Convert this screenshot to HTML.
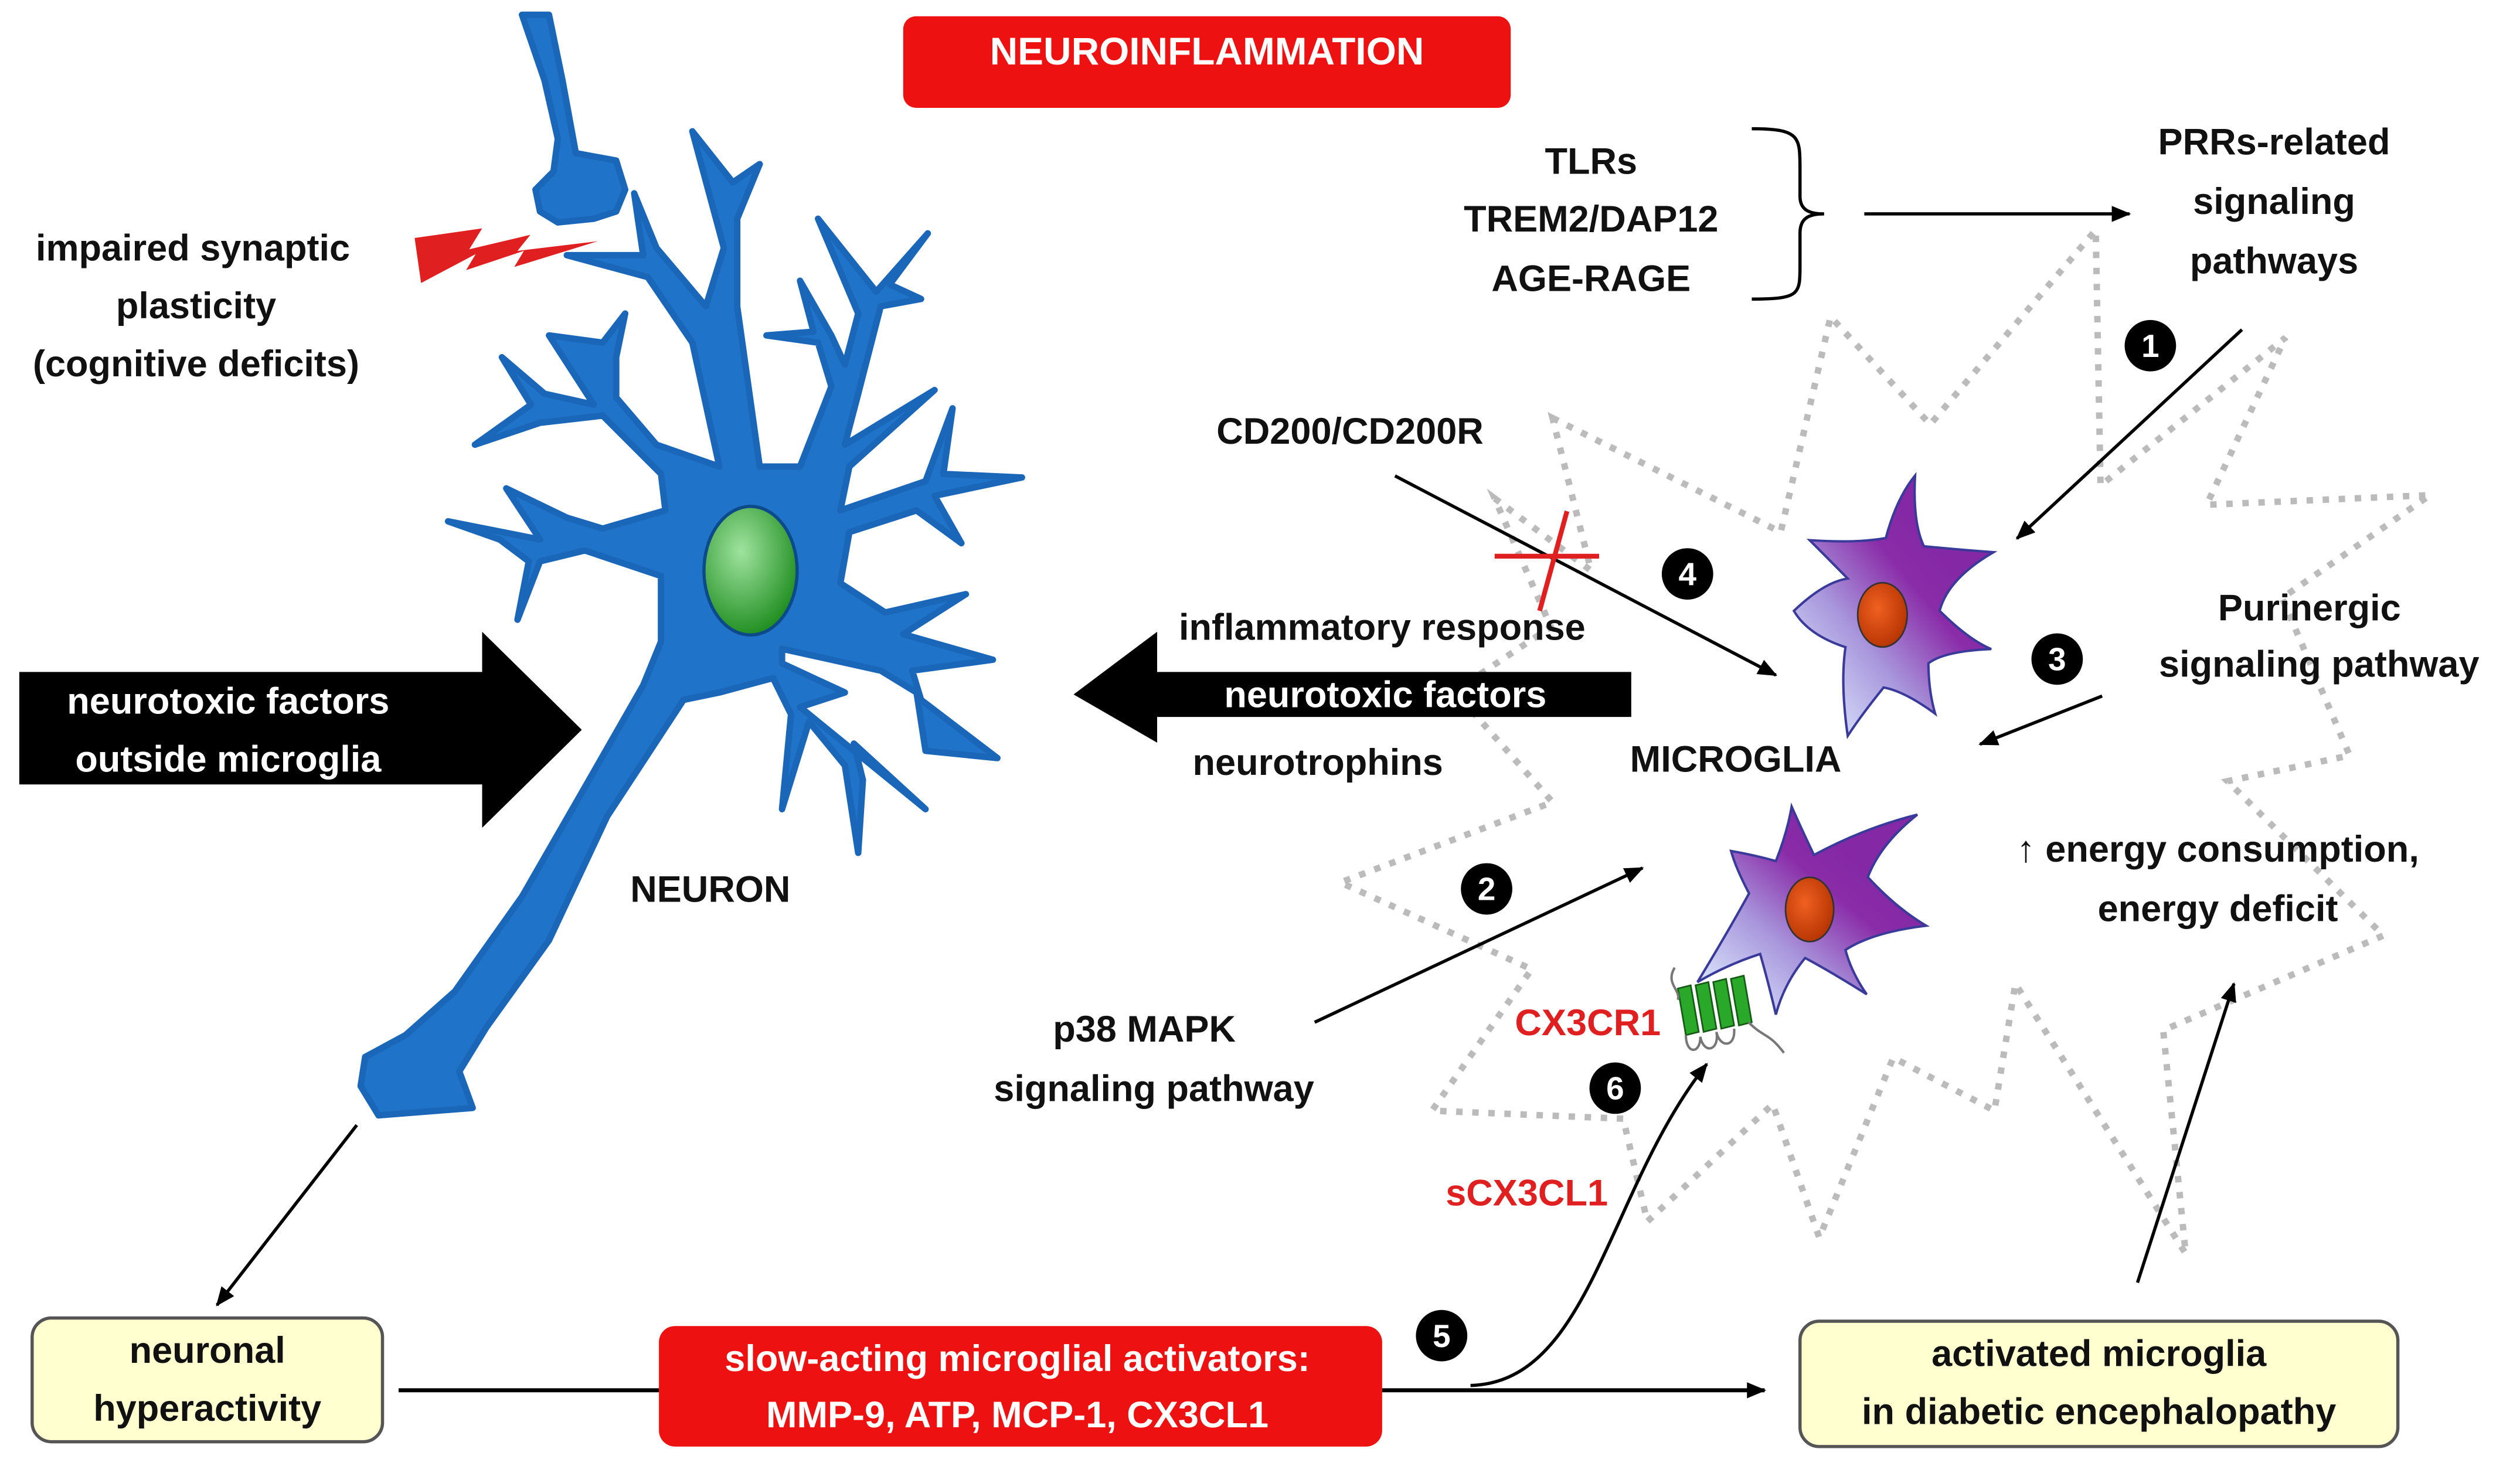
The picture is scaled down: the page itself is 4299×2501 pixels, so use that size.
<!DOCTYPE html>
<html><head><meta charset="utf-8"><style>
html,body{margin:0;padding:0;background:#fff}
svg{display:block}
text{font-family:"Liberation Sans",sans-serif;font-weight:bold;font-size:23px;fill:#111}
</style></head><body>
<svg width="4299" height="2501" viewBox="0 0 1568 912" xmlns="http://www.w3.org/2000/svg">
<defs>
<marker id="ah" markerWidth="12" markerHeight="10" refX="11" refY="5" orient="auto" markerUnits="userSpaceOnUse"><path d="M0,0 L12,5 L0,10 z" fill="#000"/></marker>
<radialGradient id="gn" cx="0.4" cy="0.35" r="0.7"><stop offset="0" stop-color="#9fe39f"/><stop offset="1" stop-color="#1a8a1a"/></radialGradient>
<linearGradient id="mg" x1="0.1" y1="1" x2="0.75" y2="0.3"><stop offset="0" stop-color="#dfeeff"/><stop offset="0.45" stop-color="#a896dc"/><stop offset="0.8" stop-color="#8a2ca8"/><stop offset="1" stop-color="#8528a5"/></linearGradient>
<radialGradient id="nuc" cx="0.4" cy="0.4" r="0.7"><stop offset="0" stop-color="#f06020"/><stop offset="1" stop-color="#b03000"/></radialGradient>
</defs>

<rect x="562" y="10" width="378" height="57" rx="8" fill="#ee1111"/>
<text x="751" y="40" text-anchor="middle" style="fill:#fff;font-size:24px">NEUROINFLAMMATION</text>

<polygon points="966,260 1108,331 1139,197 1201,264 1304,143 1307,302 1422,210 1373,314 1512,308 1420,372 1462,470 1386,486 1483,582 1346,641 1360,780 1254,612 1241,691 1178,658 1132,770 1103,687 1025,760 1010,696 891,691 953,603 834,549 966,499 905,430 965,390 930,310 990,355"
 fill="none" stroke="#bbb" stroke-width="4" stroke-dasharray="4,6"/>

<g fill="#1f74c9" stroke="#1a66b8" stroke-width="4" stroke-linejoin="round">
<path d="M324.8,9.1 L341.6,9.1 L350,49.9 L358.3,95.2 L383.4,99.8 L389,117.9 L383.4,131.5 L369.5,136 L347.1,138.3 L336,131.5 L333.2,117.9 L344.4,106.6 L347.1,86.2 L338.8,49.9 Z"/>
<path d="M235.5,693.9 L224.4,675.7 L227.2,657.6 L252.3,644 L283,616.8 L324.8,557.8 L363.9,489.8 L400.2,426.3 L411.3,399.1 L411.3,358.3 L363.9,342.4 L336,349.2 L322,385.5 L329,349.2 L310.9,335.6 L278.8,324.3 L336,335.6 L315,303.8 L352.7,322 L375,328.8 L414,317.5 L411.3,294.8 L375,258.5 L336,263 L295.5,276.6 L330.4,251.7 L312.3,222.2 L338.8,244.9 L369.5,251.7 L341.6,208.6 L375,213.1 L389,195 L383.4,222.2 L383.4,247.2 L408.5,276.6 L447.6,290.2 L430.8,213.1 L403,172.3 L352.7,158.7 L400.2,158.7 L394.6,120.2 L408.5,154.2 L439.2,190.5 L450.4,154.2 L430.8,81.6 L456,113.4 L472.7,102 L458.7,136 L458.7,190.5 L472.7,290.2 L497.8,290.2 L517.3,240.4 L509,213.1 L476.9,208.6 L506.2,206.3 L497.8,174.6 L517.3,208.6 L525.7,226.8 L534,195 L509,136 L545.2,181.4 L577.3,145.1 L553.6,176.9 L573.1,185.9 L548,190.5 L534,244.9 L525.7,276.6 L581.5,242.6 L528.5,290.2 L522.9,317.5 L575.9,299.3 L592.7,254 L587,294.8 L635.9,297 L581.5,308.4 L598.2,337.9 L570.3,317.5 L528.5,331 L522.9,362.8 L550.8,381 L601,369.6 L562,394.5 L617.8,410.4 L567.6,417.2 L573.1,435.4 L620.6,471.6 L575.9,467.1 L570.3,430.8 L548,417.2 L486.6,403.6 L486.6,412.7 L525.7,430.8 L497.8,439.9 L503.4,444.4 L575.9,503.4 L531.3,462.6 L536.9,485.2 L534,530.6 L525.7,476.2 L503.4,449 L486.6,503.4 L492.2,444.4 L481,421.8 L447.6,430.8 L425.3,435.4 L377.8,507.9 L341.6,585 L302.5,639.4 L285.8,666.6 L294.1,689.3 Z"/>
</g>
<ellipse cx="467" cy="355" rx="29" ry="40" fill="url(#gn)" stroke="#0d4a8a" stroke-width="2"/>
<polygon points="258,148 300,142 292,155 330,146 322,156 372,150 320,166 326,156 290,168 296,158 262,176" fill="#e02020"/>

<text x="120" y="162" text-anchor="middle">impaired synaptic</text>
<text x="122" y="198" text-anchor="middle">plasticity</text>
<text x="122" y="234" text-anchor="middle">(cognitive deficits)</text>
<text x="442" y="561" text-anchor="middle">NEURON</text>

<polygon points="12,418 300,418 300,393 362,454 300,515 300,488 12,488" fill="#000"/>
<text x="142" y="444" text-anchor="middle" style="fill:#fff">neurotoxic factors</text>
<text x="142" y="480" text-anchor="middle" style="fill:#fff">outside microglia</text>

<polygon points="1015,418 720,418 720,393 668,432 720,462 720,446 1015,446" fill="#000"/>
<text x="862" y="440" text-anchor="middle" style="fill:#fff">neurotoxic factors</text>
<text x="860" y="398" text-anchor="middle">inflammatory response</text>
<text x="820" y="482" text-anchor="middle">neurotrophins</text>

<text x="990" y="108" text-anchor="middle">TLRs</text>
<text x="990" y="144" text-anchor="middle">TREM2/DAP12</text>
<text x="990" y="181" text-anchor="middle">AGE-RAGE</text>
<path d="M1090,80 C1120,80 1120,85 1120,105 L1120,122 C1120,130 1125,133 1135,133 C1125,133 1120,136 1120,145 L1120,165 C1120,183 1120,186 1090,186" fill="none" stroke="#000" stroke-width="2"/>
<line x1="1160" y1="133" x2="1325" y2="133" stroke="#000" stroke-width="2" marker-end="url(#ah)"/>
<text x="1415" y="96" text-anchor="middle">PRRs-related</text>
<text x="1415" y="133" text-anchor="middle">signaling</text>
<text x="1415" y="170" text-anchor="middle">pathways</text>
<line x1="1395" y1="205" x2="1255" y2="335" stroke="#000" stroke-width="2" marker-end="url(#ah)"/>

<text x="840" y="276" text-anchor="middle">CD200/CD200R</text>
<line x1="868" y1="296" x2="1105" y2="420" stroke="#000" stroke-width="2" marker-end="url(#ah)"/>
<line x1="930" y1="346" x2="995" y2="346" stroke="#e02020" stroke-width="3"/>
<line x1="975" y1="318" x2="958" y2="380" stroke="#e02020" stroke-width="3"/>

<text x="1437" y="386" text-anchor="middle">Purinergic</text>
<text x="1443" y="421" text-anchor="middle">signaling pathway</text>
<line x1="1308" y1="433" x2="1232" y2="463" stroke="#000" stroke-width="2" marker-end="url(#ah)"/>
<text x="1080" y="480" text-anchor="middle">MICROGLIA</text>
<text x="1380" y="536" text-anchor="middle">↑ energy consumption,</text>
<text x="1380" y="573" text-anchor="middle">energy deficit</text>

<text x="712" y="648" text-anchor="middle">p38 MAPK</text>
<text x="718" y="685" text-anchor="middle">signaling pathway</text>
<line x1="818" y1="636" x2="1022" y2="540" stroke="#000" stroke-width="2" marker-end="url(#ah)"/>

<path d="M1191.6,295.8 Q1190,325 1197.1,339.8 Q1220,342 1240.4,343.5 Q1212,360 1206.9,380 Q1225,398 1239,403.8 Q1210,405 1199.9,412.6 Q1200,430 1204.1,444 Q1185,430 1172,427.7 Q1158,445 1149.7,457.8 Q1145,425 1148.3,402.6 Q1125,395 1116.2,380 Q1135,362 1149.7,359.9 Q1135,345 1126,336 Q1155,338 1173.4,334.7 Q1180,310 1191.6,295.8 Z" fill="url(#mg)" stroke="#3a3a9a" stroke-width="1.5"/>
<ellipse cx="1171.3" cy="382.5" rx="15.4" ry="20" fill="url(#nuc)" stroke="#333"/>
<path d="M1114.8,501.8 Q1122,518 1128.7,531.9 Q1160,515 1193,506.8 Q1170,525 1162.2,545.7 Q1180,565 1198.5,575.9 Q1165,580 1148.3,591 Q1152,605 1161.5,618.6 Q1140,605 1123.2,596 Q1110,612 1105,631.2 Q1100,610 1095.2,593.5 Q1075,600 1056.2,611 Q1075,580 1088.3,555.8 Q1080,540 1077.1,529.4 Q1092,532 1105,535.7 Q1112,518 1114.8,501.8 Z" fill="url(#mg)" stroke="#3a3a9a" stroke-width="1.5"/>
<ellipse cx="1126" cy="565.8" rx="15" ry="20" fill="url(#nuc)" stroke="#333"/>
<g fill="#2aa82a" stroke="#155a15" stroke-width="1">
<polygon points="1044,615 1052,613 1057,642 1049,644"/><polygon points="1055,613 1063,611 1068,640 1060,642"/><polygon points="1066,611 1074,609 1079,638 1071,640"/><polygon points="1077,609 1085,607 1090,636 1082,638"/>
</g>
<path d="M1042,602 C1036,612 1046,616 1044,622 M1049,644 C1049,656 1058,656 1058,645 C1060,656 1070,654 1068,642 C1070,652 1080,652 1079,640 M1088,636 C1098,646 1100,642 1110,655" fill="none" stroke="#777" stroke-width="1.5"/>
<text x="988" y="644" text-anchor="middle" style="fill:#e02020">CX3CR1</text>
<text x="950" y="750" text-anchor="middle" style="fill:#e02020">sCX3CL1</text>

<g fill="#000">
<circle cx="1338" cy="215" r="16"/><circle cx="925" cy="553" r="16"/><circle cx="1280" cy="410" r="16"/>
<circle cx="1050" cy="357" r="16"/><circle cx="897" cy="831" r="16"/><circle cx="1005" cy="677" r="16"/>
</g>
<text x="1338" y="222" text-anchor="middle" style="fill:#fff;font-size:20px">1</text>
<text x="925" y="560" text-anchor="middle" style="fill:#fff;font-size:20px">2</text>
<text x="1280" y="417" text-anchor="middle" style="fill:#fff;font-size:20px">3</text>
<text x="1050" y="364" text-anchor="middle" style="fill:#fff;font-size:20px">4</text>
<text x="897" y="838" text-anchor="middle" style="fill:#fff;font-size:20px">5</text>
<text x="1005" y="684" text-anchor="middle" style="fill:#fff;font-size:20px">6</text>

<rect x="20" y="820" width="218" height="77" rx="12" fill="#ffffd0" stroke="#555" stroke-width="2"/>
<text x="129" y="848" text-anchor="middle">neuronal</text>
<text x="129" y="884" text-anchor="middle">hyperactivity</text>
<rect x="410" y="825" width="450" height="75" rx="10" fill="#ee1111"/>
<text x="633" y="853" text-anchor="middle" style="fill:#fff">slow-acting microglial activators:</text>
<text x="633" y="888" text-anchor="middle" style="fill:#fff">MMP-9, ATP, MCP-1, CX3CL1</text>
<rect x="1120" y="822" width="372" height="78" rx="12" fill="#ffffd0" stroke="#555" stroke-width="2"/>
<text x="1306" y="850" text-anchor="middle">activated microglia</text>
<text x="1306" y="886" text-anchor="middle">in diabetic encephalopathy</text>

<line x1="248" y1="865" x2="410" y2="865" stroke="#000" stroke-width="2.5"/>
<line x1="860" y1="865" x2="1098" y2="865" stroke="#000" stroke-width="2.5" marker-end="url(#ah)"/>
<path d="M915,862 C990,860 1000,740 1062,662" fill="none" stroke="#000" stroke-width="2" marker-end="url(#ah)"/>
<line x1="1330" y1="798" x2="1390" y2="612" stroke="#000" stroke-width="2" marker-end="url(#ah)"/>
<line x1="222" y1="700" x2="135" y2="812" stroke="#000" stroke-width="2" marker-end="url(#ah)"/>
</svg>
</body></html>
